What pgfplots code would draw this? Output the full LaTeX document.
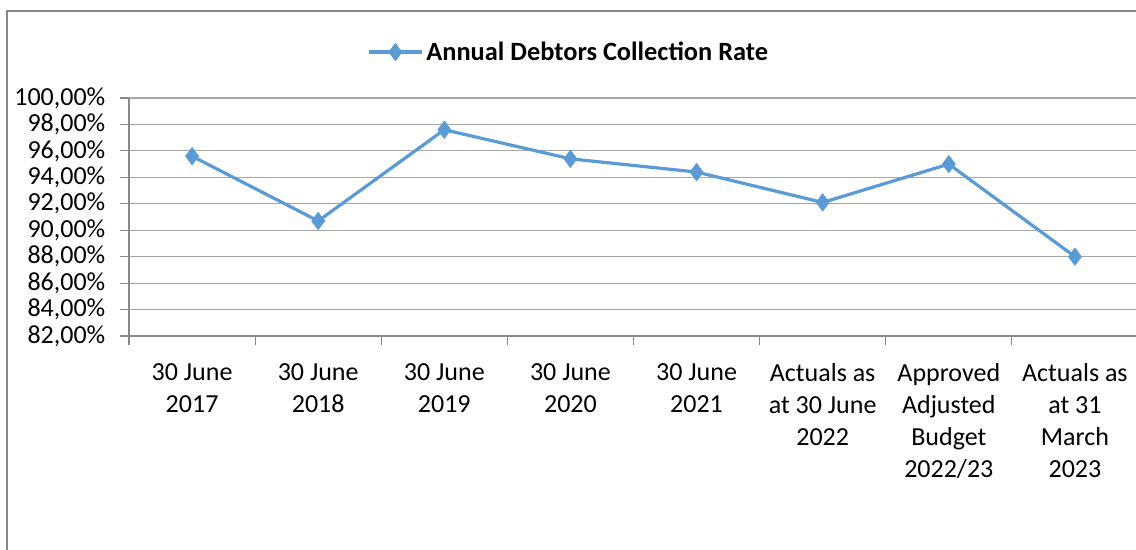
\documentclass[border=0pt]{standalone}
\usepackage{pgfplots}
\pgfplotsset{compat=1.18}
\usepackage{fontspec}
\setmainfont{Carlito}
\definecolor{lineblue}{HTML}{5B9BD5}
\definecolor{gridgray}{HTML}{A6A6A6}
\definecolor{axisgray}{HTML}{888888}
\begin{document}
\begin{tikzpicture}[x=0.75pt,y=0.75pt]
\useasboundingbox (0,0) rectangle (1136,-550);
\draw[axisgray, line width=0.9pt] (7,-11) rectangle (1150,-570);
\begin{axis}[
  at={(96.75pt,-252pt)}, anchor=south west,
  scale only axis, width=756.75pt, height=178.5pt,
  xmin=0.5, xmax=8.5, ymin=82, ymax=100,
  axis x line*=bottom, axis y line*=left,
  axis line style={draw=axisgray, line width=0.8pt, -},
  ytick={82,84,...,100},
  yticklabels={{82,00\%},{84,00\%},{86,00\%},{88,00\%},{90,00\%},{92,00\%},{94,00\%},{96,00\%},{98,00\%},{100,00\%}},
  xtick={1,...,8},
  xticklabels={{30 June\\2017},{30 June\\2018},{30 June\\2019},{30 June\\2020},{30 June\\2021},{Actuals as\\at 30 June\\2022},{Approved\\Adjusted\\Budget\\2022/23},{Actuals as\\at 31\\March\\2023}},
  minor xtick={0.5,1.5,...,8.5},
  tick align=outside,
  major tick length=6.75pt, minor tick length=6.75pt,
  major x tick style={draw=none},
  minor x tick style={draw=axisgray, line width=0.8pt},
  major y tick style={draw=axisgray, line width=0.8pt},
  ymajorgrids, grid style={draw=gridgray, line width=0.8pt},
  tick label style={font=\fontsize{19.5}{24}\selectfont},
  y tick label style={xshift=-7.5pt},
  x tick label style={align=center, anchor=north, yshift=-10.5pt},
  legend style={at={(axis description cs:0.436,1.193)}, anchor=center, draw=none, fill=none,
    font=\bfseries\fontsize{19.8}{24}\selectfont, legend cell align=left},
  legend image code/.code={\draw[#1, mark repeat=2, mark phase=2] plot coordinates {(0pt,0pt) (20pt,0pt) (40pt,0pt)};},
]
\addplot[color=lineblue, line width=2.4pt, mark=diamond*, mark size=6.5pt, mark options={fill=lineblue, draw=lineblue, line width=0.5pt}]
  coordinates {(1,95.6) (2,90.7) (3,97.6) (4,95.4) (5,94.4) (6,92.1) (7,95.0) (8,88.0)};
\addlegendentry{Annual Debtors Collection Rate}
\end{axis}
\end{tikzpicture}
\end{document}
